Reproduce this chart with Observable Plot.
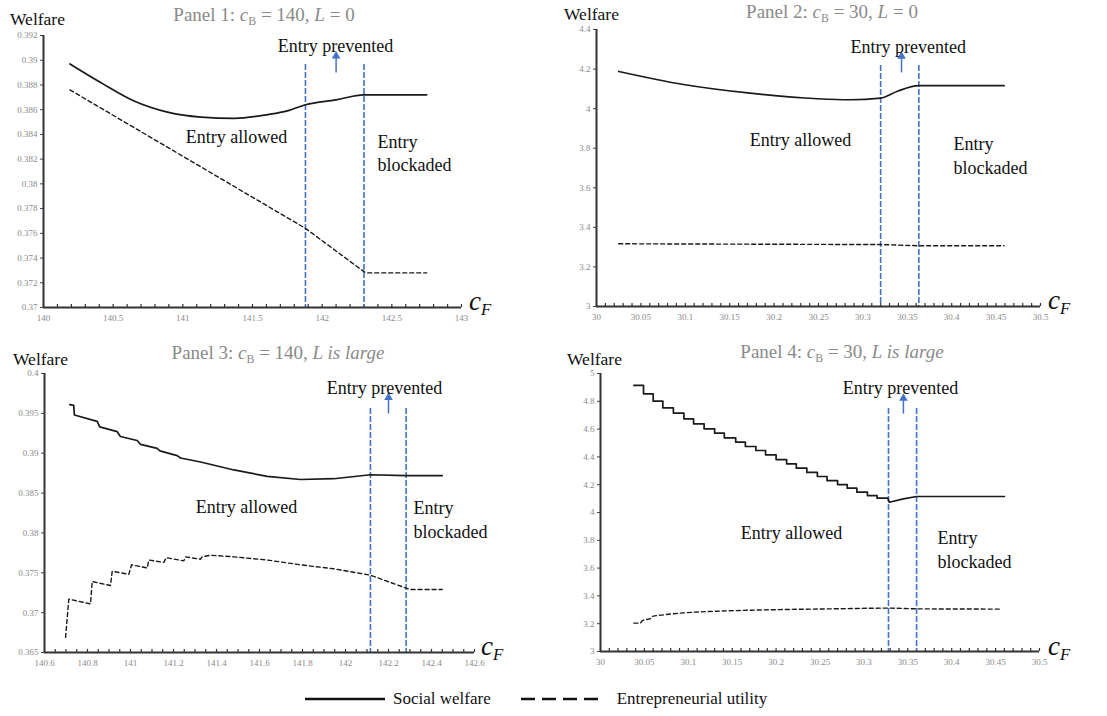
<!DOCTYPE html>
<html><head><meta charset="utf-8">
<script src="https://cdn.jsdelivr.net/npm/d3@7"></script>
<script src="https://cdn.jsdelivr.net/npm/@observablehq/plot@0.6"></script>
<style>
body{margin:0;background:#fff;}
#fig{position:relative;width:1107px;height:716px;overflow:hidden;}
#fig, #fig *{font-family:"Liberation Serif","DejaVu Serif",serif !important;}
.panel{position:absolute;}
.panel svg{overflow:visible;}
.title{position:absolute;color:#8a8a8a;font-size:19px;line-height:1;white-space:nowrap;transform:translateX(-50%);}
.title sub,.cf sub{font-size:0.62em;vertical-align:-0.3em;line-height:0;}
.wl{position:absolute;font-size:17.5px;line-height:1;color:#111;}
.cf{position:absolute;font-size:27px;line-height:1;font-style:italic;color:#111;}
.cf sub{font-style:italic;}
#legend{position:absolute;left:300px;top:689px;display:flex;align-items:center;font-size:17px;color:#111;white-space:nowrap;}
</style></head>
<body>
<div id="fig"></div>
<script>
// ---------- data ----------
// Panel 1: c_B = 140, L = 0
const p1SolidX = [140.19,140.41,140.65,140.89,141.13,141.37,141.61,141.75,141.88,142.1,142.3,142.75];
const p1SolidY = [0.3897,0.3882,0.3867,0.3858,0.3854,0.3853,0.3856,0.3859,0.3864,0.3868,0.3872,0.3872];
const p1DashX = [140.19,141.88,142.3,142.32,142.75];
const p1DashY = [0.3876,0.3764,0.3729,0.3728,0.3728];
const p1Bounds = [141.88,142.30];

// Panel 2: c_B = 30, L = 0
const p2SolidX = [30.025,30.098,30.173,30.249,30.286,30.320,30.339,30.363,30.459];
const p2SolidY = [4.188,4.122,4.078,4.050,4.045,4.053,4.088,4.116,4.116];
const p2DashX = [30.025,30.320,30.363,30.459];
const p2DashY = [3.317,3.313,3.307,3.307];
const p2Bounds = [30.320,30.363];

// Panel 3: c_B = 140, L large
const p3SolidX = [140.718,140.736,140.739,140.845,140.857,140.938,140.953,141.031,141.047,141.124,141.137,141.217,141.233,141.326,141.481,141.636,141.791,141.946,142.116,142.279,142.450];
const p3SolidY = [0.3961,0.3960,0.3948,0.3940,0.3933,0.3927,0.3921,0.3916,0.3911,0.3906,0.3903,0.3897,0.3894,0.3889,0.3879,0.3871,0.3867,0.3868,0.3873,0.3872,0.3872];
const p3DashX = [140.698,140.713,140.814,140.822,140.907,140.915,140.992,141.005,141.078,141.085,141.155,141.166,141.248,141.256,141.326,141.333,141.372,141.481,141.636,141.791,141.946,142.116,142.279,142.302,142.450];
const p3DashY = [0.3669,0.3717,0.3711,0.3739,0.3734,0.3752,0.3748,0.3760,0.3756,0.3766,0.3763,0.3769,0.3765,0.3770,0.3767,0.3770,0.3772,0.3770,0.3766,0.3760,0.3755,0.3747,0.3731,0.3729,0.3729];
const p3Bounds = [142.116,142.282];

// Panel 4: c_B = 30, L large
const p4StepX = [30.038,30.049,30.060,30.071,30.083,30.095,30.106,30.118,30.130,30.141,30.154,30.165,30.177,30.188,30.200,30.212,30.223,30.235,30.247,30.258,30.270,30.281,30.292,30.304,30.315,30.327];
const p4StepY = [4.914,4.854,4.801,4.753,4.715,4.674,4.638,4.602,4.571,4.537,4.506,4.475,4.446,4.415,4.381,4.350,4.319,4.288,4.259,4.230,4.201,4.175,4.146,4.122,4.103,4.103];
const p4TailX = [30.327,30.329,30.345,30.360,30.460];
const p4TailY = [4.103,4.074,4.098,4.115,4.115];
const p4DashX = [30.038,30.045,30.048,30.057,30.059,30.072,30.095,30.133,30.171,30.209,30.266,30.328,30.361,30.457];
const p4DashY = [3.204,3.204,3.223,3.237,3.252,3.264,3.278,3.290,3.297,3.302,3.307,3.312,3.307,3.305];
const p4Bounds = [30.328,30.360];

// tick values
const p1XTicks = [140,140.5,141,141.5,142,142.5,143];
const p1YTicks = [0.37,0.372,0.374,0.376,0.378,0.38,0.382,0.384,0.386,0.388,0.39,0.392];
const p2XTicks = [30,30.05,30.1,30.15,30.2,30.25,30.3,30.35,30.4,30.45,30.5];
const p2YTicks = [3,3.2,3.4,3.6,3.8,4,4.2,4.4];
const p3XTicks = [140.6,140.8,141,141.2,141.4,141.6,141.8,142,142.2,142.4,142.6];
const p3YTicks = [0.365,0.37,0.375,0.38,0.385,0.39,0.395,0.4];
const p4XTicks = [30,30.05,30.1,30.15,30.2,30.25,30.3,30.35,30.4,30.45,30.5];
const p4YTicks = [3,3.2,3.4,3.6,3.8,4,4.2,4.4,4.6,4.8,5];

const regionLabels = ["Entry allowed", "Entry\nblockaded", "Entry prevented"];
const legendLabels = ["Social welfare", "Entrepreneurial utility"];

// ---------- helpers ----------
const pts = (xs, ys) => xs.map((x, i) => ({x, y: ys[i]}));
const fmt = d => String(+d.toFixed(4));
const range = (a, b, s) => d3.range(Math.round((b - a) / s) + 1).map(i => +(a + i * s).toFixed(4));
const BLUE = "#4472C4";
const SERIF = "Liberation Serif, DejaVu Serif, serif";

function panel(c) {
  const [y0, y1] = c.yDomain;
  const tl = (y1 - y0) * 0.011;
  const ann = [
    {x: c.allowed[0], y: c.allowed[1], text: regionLabels[0]},
    {x: c.prevented[0], y: c.prevented[1], text: regionLabels[2]}
  ];
  const block = [{x: c.blockaded[0], y: c.blockaded[1], text: regionLabels[1]}];
  const marks = [
    Plot.axisY({ticks: c.yTicks, tickSize: 3, tickPadding: 3, tickFormat: fmt, fontSize: 9, fill: "#8a8a8a", stroke: "#444", label: null}),
    Plot.axisX({ticks: c.xTicks, tickSize: 0, tickPadding: 7, tickFormat: fmt, fontSize: 9, fill: "#8a8a8a", label: null}),
    Plot.ruleX(c.minor, {x: d => d, y1: y0, y2: y0 + tl, stroke: "#333", strokeWidth: 1.2}),
    Plot.ruleX(c.bounds, {x: d => d, y1: c.vTop, y2: y0, stroke: BLUE, strokeWidth: 1.6, strokeDasharray: "6,2"}),
    Plot.ruleY([y0], {stroke: "#333", strokeWidth: 2}),
    Plot.ruleX([c.xDomain[0]], {stroke: "#333", strokeWidth: 2}),
  ];
  c.solids.forEach(s => marks.push(Plot.line(s.data, {x: "x", y: "y", stroke: "#1a1a1a", strokeWidth: 1.7, curve: s.curve || "linear"})));
  marks.push(Plot.line(c.dashed, {x: "x", y: "y", stroke: "#1a1a1a", strokeWidth: 1.4, strokeDasharray: "4,3", curve: c.dashCurve || "linear"}));
  marks.push(Plot.link([c.arrow], {x1: "x", y1: "y1", x2: "x", y2: "y2", stroke: BLUE, strokeWidth: 1.5}));
  marks.push(Plot.dot([c.arrow], {x: "x", y: "y2", symbol: "triangle", r: 3.2, fill: BLUE, stroke: "none"}));
  marks.push(Plot.text(ann, {x: "x", y: "y", text: "text", fontSize: 18, fontFamily: SERIF, fill: "#111", textAnchor: "middle"}));
  marks.push(Plot.text(block, {x: "x", y: "y", text: "text", fontSize: 18, fontFamily: SERIF, fill: "#111", textAnchor: "start", lineHeight: 1.3}));
  return Plot.plot({
    width: c.w, height: c.h,
    marginLeft: c.m[0], marginRight: c.m[1], marginTop: c.m[2], marginBottom: c.m[3],
    x: {domain: c.xDomain},
    y: {domain: c.yDomain},
    style: {fontFamily: SERIF, background: "transparent"},
    marks
  });
}

const configs = [
  {left: 0, top: 0, w: 550, h: 335, m: [43, 89, 35, 28],
   xDomain: [140, 143], yDomain: [0.37, 0.392], xTicks: p1XTicks, yTicks: p1YTicks, minor: range(140, 143, 0.1),
   solids: [{data: pts(p1SolidX, p1SolidY), curve: "monotone-x"}], dashed: pts(p1DashX, p1DashY),
   bounds: p1Bounds, vTop: 0.38965, arrow: {x: 142.10, y1: 0.38901, y2: 0.39035},
   allowed: [141.385, 0.3838], blockaded: [142.397, 0.38258], prevented: [142.096, 0.39111]},
  {left: 550, top: 0, w: 557, h: 335, m: [46, 67, 29, 29],
   xDomain: [30, 30.5], yDomain: [3, 4.4], xTicks: p2XTicks, yTicks: p2YTicks, minor: range(30, 30.5, 0.01),
   solids: [{data: pts(p2SolidX, p2SolidY), curve: "monotone-x"}], dashed: pts(p2DashX, p2DashY),
   bounds: p2Bounds, vTop: 4.218, arrow: {x: 30.3435, y1: 4.183, y2: 4.265},
   allowed: [30.2297, 3.839], blockaded: [30.402, 3.768], prevented: [30.351, 4.309]},
  {left: 0, top: 345, w: 550, h: 335, m: [44, 76, 28, 28],
   xDomain: [140.6, 142.6], yDomain: [0.365, 0.4], xTicks: p3XTicks, yTicks: p3YTicks, minor: range(140.6, 142.6, 0.05),
   solids: [{data: pts(p3SolidX, p3SolidY)}], dashed: pts(p3DashX, p3DashY),
   bounds: p3Bounds, vTop: 0.39561, arrow: {x: 142.2, y1: 0.39498, y2: 0.39700},
   allowed: [141.54, 0.3832], blockaded: [142.316, 0.38181], prevented: [142.181, 0.3982]},
  {left: 550, top: 345, w: 557, h: 335, m: [50, 68, 28, 29],
   xDomain: [30, 30.5], yDomain: [3, 5], xTicks: p4XTicks, yTicks: p4YTicks, minor: range(30, 30.5, 0.01),
   solids: [{data: pts(p4StepX, p4StepY), curve: "step-after"}, {data: pts(p4TailX, p4TailY)}], dashed: pts(p4DashX, p4DashY),
   dashCurve: "monotone-x",
   bounds: p4Bounds, vTop: 4.748, arrow: {x: 30.345, y1: 4.712, y2: 4.822},
   allowed: [30.2175, 3.849], blockaded: [30.3838, 3.741], prevented: [30.3417, 4.892]}
];

const fig = document.getElementById("fig");
configs.forEach(c => {
  const d = document.createElement("div");
  d.className = "panel";
  d.style.left = c.left + "px"; d.style.top = c.top + "px";
  d.appendChild(panel(c));
  fig.appendChild(d);
});

// titles, axis labels
const titles = [
  {x: 264, y: 5, html: 'Panel 1: <i>c</i><sub>B</sub> = 140, <i>L</i> = 0'},
  {x: 832, y: 2, html: 'Panel 2: <i>c</i><sub>B</sub> = 30, <i>L</i> = 0'},
  {x: 278, y: 343, html: 'Panel 3: <i>c</i><sub>B</sub> = 140, <i>L is large</i>'},
  {x: 842, y: 342, html: 'Panel 4: <i>c</i><sub>B</sub> = 30, <i>L is large</i>'}
];
titles.forEach(t => {
  const e = document.createElement("div");
  e.className = "title"; e.style.left = t.x + "px"; e.style.top = t.y + "px"; e.innerHTML = t.html;
  fig.appendChild(e);
});
[[10, 11], [564, 6], [13, 351], [567, 351]].forEach(([x, y]) => {
  const e = document.createElement("div");
  e.className = "wl"; e.style.left = x + "px"; e.style.top = y + "px"; e.textContent = "Welfare";
  fig.appendChild(e);
});
[[469, 288], [1048, 287], [481, 633], [1048, 633]].forEach(([x, y]) => {
  const e = document.createElement("div");
  e.className = "cf"; e.style.left = x + "px"; e.style.top = y + "px"; e.innerHTML = "c<sub>F</sub>";
  fig.appendChild(e);
});

// legend
const lg = document.createElement("div");
lg.id = "legend";
lg.innerHTML =
  '<svg width="90" height="10"><line x1="5" x2="85" y1="5" y2="5" stroke="#111" stroke-width="2.5"/></svg>' +
  '<span style="margin-left:3px">' + legendLabels[0] + '</span>' +
  '<svg width="100" height="10" style="margin-left:26px"><line x1="4" x2="81" y1="5" y2="5" stroke="#111" stroke-width="2.5" stroke-dasharray="14,7"/></svg>' +
  '<span>' + legendLabels[1] + '</span>';
fig.appendChild(lg);
</script>
</body></html>
